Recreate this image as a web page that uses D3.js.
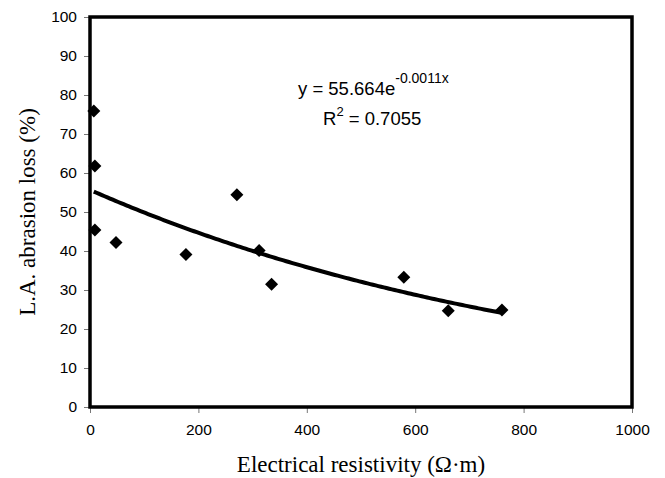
<!DOCTYPE html>
<html>
<head>
<meta charset="utf-8">
<script src="https://cdn.jsdelivr.net/npm/d3@7"></script>
<style>
  body { margin: 0; background: #fff; }
</style>
</head>
<body>
<div id="chart"></div>
<script>
// Data
const resistivity = [7, 9, 9, 48, 177, 271, 312, 335, 579, 661, 760];
const abrasionLoss = [75.9, 61.8, 45.4, 42.2, 39.1, 54.4, 40.1, 31.5, 33.3, 24.7, 24.9];
const xTicks = [0, 200, 400, 600, 800, 1000];
const yTicks = [0, 10, 20, 30, 40, 50, 60, 70, 80, 90, 100];

// Trend line shown on the chart: y = 55.664e^(-0.0011x)
const fitA = 55.664, fitB = -0.0011;

const width = 665, height = 478;
const margin = {top: 17, bottom: 71, left: 90, right: 33};

const svg = d3.select("#chart")
    .append("svg")
    .attr("width", width)
    .attr("height", height);

const xScale = d3.scaleLinear()
    .domain([0, 1000])
    .range([margin.left, width - margin.right]);

const yScale = d3.scaleLinear()
    .domain([0, 100])
    .range([height - margin.bottom, margin.top]);

// Axes
const yAxis = svg.append("g")
    .attr("transform", `translate(${margin.left},0)`)
    .call(d3.axisLeft(yScale).tickValues(yTicks).tickFormat(d3.format("d")).tickSize(6).tickPadding(7));

const xAxis = svg.append("g")
    .attr("transform", `translate(0,${height - margin.bottom})`)
    .call(d3.axisBottom(xScale).tickValues(xTicks).tickFormat(d3.format("d")).tickSize(6).tickPadding(11));

[xAxis, yAxis].forEach(g => {
    g.select(".domain").remove();
    g.selectAll(".tick line").attr("stroke", "#777").attr("stroke-width", 1);
    g.selectAll(".tick text")
        .style("font-family", "'Liberation Sans', Arial, sans-serif")
        .style("font-size", "15.5px")
        .attr("fill", "#000");
});

// Plot frame
svg.append("rect")
    .attr("x", xScale(0))
    .attr("y", yScale(100))
    .attr("width", xScale(1000) - xScale(0))
    .attr("height", yScale(0) - yScale(100))
    .attr("fill", "none")
    .attr("stroke", "#000")
    .attr("stroke-width", 3.5);

// Trend line across the data range
const xMin = d3.min(resistivity), xMax = d3.max(resistivity);
const fitX = d3.range(xMin, xMax + 1, 5);
const line = d3.line()
    .x(d => xScale(d))
    .y(d => yScale(fitA * Math.exp(fitB * d)));

svg.append("path")
    .datum(fitX)
    .attr("d", line)
    .attr("fill", "none")
    .attr("stroke", "#000")
    .attr("stroke-width", 4);

// Diamond markers
const points = resistivity.map((x, i) => ({x: x, y: abrasionLoss[i]}));
svg.selectAll(".pt")
    .data(points)
    .enter().append("path")
    .attr("class", "pt")
    .attr("transform", d => `translate(${xScale(d.x)},${yScale(d.y)})`)
    .attr("d", "M0,-6.5L6.5,0L0,6.5L-6.5,0Z")
    .attr("fill", "#000");

// Equation text
const eq = svg.append("text")
    .attr("x", 298)
    .attr("y", 95)
    .style("font-family", "'Liberation Sans', Arial, sans-serif")
    .style("font-size", "18.5px");
eq.append("tspan").text("y = 55.664e");
eq.append("tspan").attr("dy", -12).style("font-size", "14px").text("-0.0011x");

const r2 = svg.append("text")
    .attr("x", 323)
    .attr("y", 125)
    .style("font-family", "'Liberation Sans', Arial, sans-serif")
    .style("font-size", "18.5px");
r2.append("tspan").text("R");
r2.append("tspan").attr("dy", -9).style("font-size", "13px").text("2");
r2.append("tspan").attr("dy", 9).text(" = 0.7055");

// Axis labels
svg.append("text")
    .attr("x", (xScale(0) + xScale(1000)) / 2)
    .attr("y", 472)
    .style("text-anchor", "middle")
    .style("font-family", "'Liberation Serif', 'Times New Roman', serif")
    .style("font-size", "23px")
    .text("Electrical resistivity (Ω·m)");

svg.append("text")
    .attr("transform", "rotate(-90)")
    .attr("x", -(yScale(0) + yScale(100)) / 2)
    .attr("y", 35)
    .style("text-anchor", "middle")
    .style("font-family", "'Liberation Serif', 'Times New Roman', serif")
    .style("font-size", "23px")
    .text("L.A. abrasion loss (%)");
</script>
</body>
</html>
